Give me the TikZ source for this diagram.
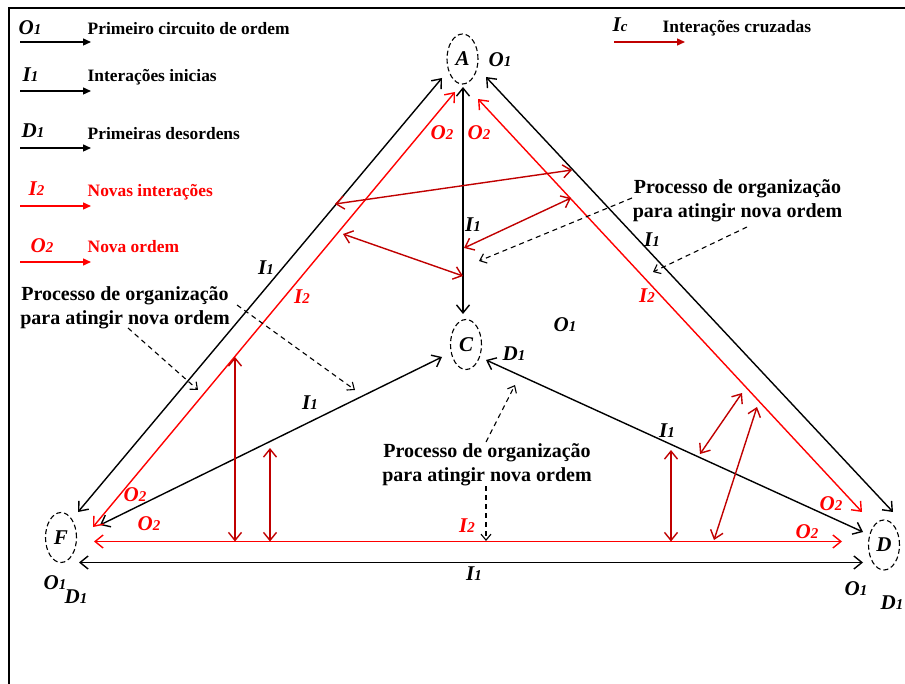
\documentclass[tikz,border=0pt]{standalone}
\usepackage{fontspec}
\setmainfont{Liberation Serif}
\usetikzlibrary{arrows.meta,shapes.geometric}
\definecolor{myred}{RGB}{255,0,0}
\definecolor{crossred}{RGB}{192,0,0}
\newcommand\lbl[2]{{\fontsize{21}{21}\selectfont\bfseries\itshape #1{\fontsize{15}{15}\selectfont #2}}}
\begin{document}
\begin{tikzpicture}[x=1pt,y=-1pt,line width=1.4pt,
  >={Straight Barb[length=8pt,width=13pt]},
  blk/.style={draw=black,<->},
  redl/.style={draw=myred,<->},
  cross/.style={draw=crossred,<->},
  dsh/.style={draw=black,line width=1.1pt,dash pattern=on 5pt off 4pt,-{Straight Barb[length=6pt,width=10pt]}},
  leg/.style={-{Triangle[length=8pt,width=7pt]}},
  ell/.style={draw,ellipse,inner sep=0pt,minimum width=31pt,minimum height=50pt,line width=1.1pt,dash pattern=on 5pt off 3pt,font=\fontsize{21}{21}\selectfont\bfseries\itshape},
  legtxt/.style={font=\fontsize{17.4}{20}\selectfont\bfseries,anchor=base west,inner sep=0pt},
  legsym/.style={anchor=base west,inner sep=0pt},
  proc/.style={font=\fontsize{20}{24}\selectfont\bfseries,align=center,inner sep=0pt},
  lab/.style={inner sep=0pt},
  rlab/.style={inner sep=0pt,text=myred}]
\useasboundingbox (0,0) rectangle (905,684);
\draw[line width=1.4pt] (9,684) -- (9,8) -- (905,8);

% legend
\node[legsym] (s1) at (18,35) {\lbl{O}{1}};
\draw[leg] (20,42) -- (91,42);
\node[legtxt] (t1) at (87,34.5) {Primeiro circuito de ordem};
\node[legsym] (s2) at (22,82) {\lbl{I}{1}};
\draw[leg] (20,91) -- (91,91);
\node[legtxt] (t2) at (87,82) {Interações inicias};
\node[legsym] (s3) at (21,138) {\lbl{D}{1}};
\draw[leg] (20,148) -- (91,148);
\node[legtxt] (t3) at (87,140) {Primeiras desordens};
\node[legsym,text=myred] (s4) at (28,196) {\lbl{I}{2}};
\draw[leg,myred] (20,206) -- (91,206);
\node[legtxt,text=myred] (t4) at (87,197) {Novas interações};
\node[legsym,text=myred] (s5) at (30,253) {\lbl{O}{2}};
\draw[leg,myred] (20,262) -- (91,262);
\node[legtxt,text=myred] (t5) at (87,253) {Nova ordem};
\node[legsym] (s6) at (612,32) {\lbl{I}{c}};
\draw[leg,crossred] (614,42) -- (685,42);
\node[legtxt] (t6) at (662,33) {Interações cruzadas};

% nodes
\node[ell] (A) at (462.5,59) {A};
\node[ell] (C) at (466,344.5) {C};
\node[ell] (F) at (61,537.5) {F};
\node[ell] (D) at (884,545) {D};

% endpoints
\coordinate (AFa) at (442,78);  \coordinate (AFf) at (78,512);
\coordinate (ADa) at (486,77);  \coordinate (ADd) at (893,512);
\coordinate (FDf) at (79,562.5); \coordinate (FDd) at (863,562.5);
\coordinate (ACa) at (463,87);  \coordinate (ACc) at (463,314);
\coordinate (FCf) at (100,525); \coordinate (FCc) at (442,357);
\coordinate (CDc) at (486,360); \coordinate (CDd) at (863,532);
\coordinate (rAFa) at (455,92); \coordinate (rAFf) at (93,527);
\coordinate (rADa) at (478,99); \coordinate (rADd) at (862,512);
\coordinate (rFDf) at (94,541.5); \coordinate (rFDd) at (842,541.5);

% black
\draw[blk] (AFf) -- (AFa);
\draw[blk] (ADa) -- (ADd);
\draw[blk] (FDf) -- (FDd);
\draw[blk] (ACa) -- (ACc);
\draw[blk] (FCf) -- (FCc);
\draw[blk] (CDc) -- (CDd);
% red
\draw[redl] (rAFf) -- (rAFa);
\draw[redl] (rADa) -- (rADd);
\draw[redl] (rFDf) -- (rFDd);

% cross interactions
\coordinate (x1a) at (335,204); \coordinate (x1b) at (572,170);
\coordinate (x2a) at (343,234); \coordinate (x2b) at (463,276);
\coordinate (x3a) at (464,248); \coordinate (x3b) at (571,198);
\coordinate (x4a) at (235,357); \coordinate (x4b) at (235,541.5);
\coordinate (x5a) at (270,448); \coordinate (x5b) at (270,541.5);
\coordinate (x6a) at (671,450); \coordinate (x6b) at (671,541.5);
\coordinate (x7a) at (700,454); \coordinate (x7b) at (742,393);
\coordinate (x8a) at (714,540); \coordinate (x8b) at (757,407);
\foreach \i in {1,...,8} {\draw[cross] (x\i a) -- (x\i b);}

% process labels
\node[proc] (P1) at (737.5,201) {Processo de organização\\para atingir nova ordem};
\node[proc] (P2) at (125,308) {Processo de organização\\para atingir nova ordem};
\node[proc] (P3) at (487,465) {Processo de organização\\para atingir nova ordem};
\coordinate (d1a) at (632,198); \coordinate (d1b) at (479,261);
\coordinate (d2a) at (747,227); \coordinate (d2b) at (653,272);
\coordinate (d3a) at (128,328); \coordinate (d3b) at (198,390);
\coordinate (d4a) at (237,305); \coordinate (d4b) at (355,390);
\coordinate (d5a) at (486,442); \coordinate (d5b) at (515,385);
\coordinate (d6a) at (486,486); \coordinate (d6b) at (486,541);
\foreach \i in {1,...,6} {\draw[dsh] (d\i a) -- (d\i b);}

% labels
\node[lab] (lA) at (500,60) {\lbl{O}{1}};
\node[rlab] (l1) at (442,133) {\lbl{O}{2}};
\node[rlab] (l2) at (479,133) {\lbl{O}{2}};
\node[lab] (l3) at (473,225) {\lbl{I}{1}};
\node[lab] (l4) at (266,268) {\lbl{I}{1}};
\node[rlab] (l5) at (302,297) {\lbl{I}{2}};
\node[lab] (l6) at (652,240) {\lbl{I}{1}};
\node[rlab] (l7) at (647,296) {\lbl{I}{2}};
\node[lab] (l8) at (565,325) {\lbl{O}{1}};
\node[lab] (l9) at (514,354) {\lbl{D}{1}};
\node[lab] (l10) at (310,403) {\lbl{I}{1}};
\node[lab] (l11) at (667,431) {\lbl{I}{1}};
\node[rlab] (l12) at (135,495) {\lbl{O}{2}};
\node[rlab] (l13) at (149,524) {\lbl{O}{2}};
\node[rlab] (l14) at (467,526) {\lbl{I}{2}};
\node[rlab] (l15) at (831,504) {\lbl{O}{2}};
\node[rlab] (l16) at (807,532) {\lbl{O}{2}};
\node[lab] (l17) at (474,574) {\lbl{I}{1}};
\node[lab] (l18) at (55,583) {\lbl{O}{1}};
\node[lab] (l19) at (76,597) {\lbl{D}{1}};
\node[lab] (l20) at (856,589) {\lbl{O}{1}};
\node[lab] (l21) at (892,603) {\lbl{D}{1}};
\end{tikzpicture}
\end{document}
